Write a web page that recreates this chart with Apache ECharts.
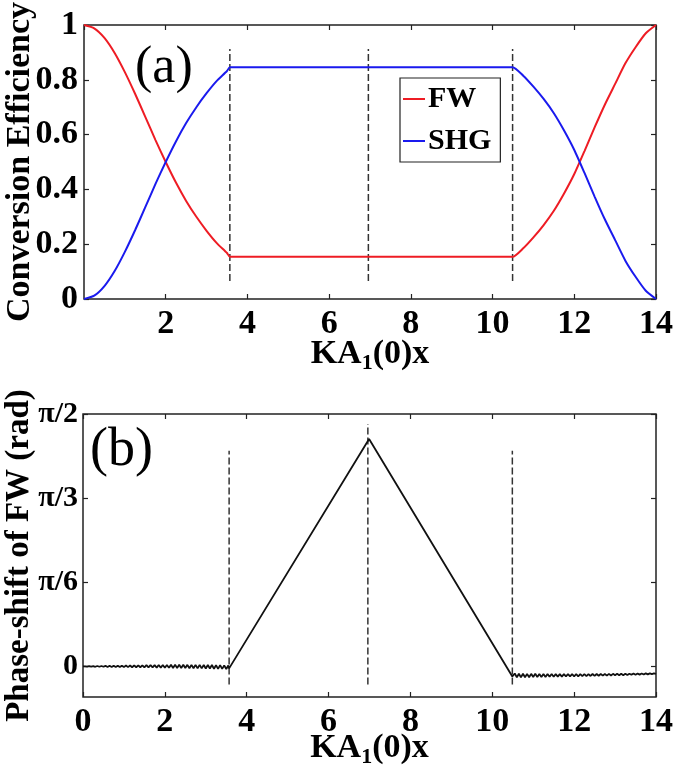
<!DOCTYPE html>
<html>
<head>
<meta charset="utf-8">
<script src="https://cdn.jsdelivr.net/npm/echarts@6/dist/echarts.min.js"></script>
<style>
html,body{margin:0;padding:0;background:#fff;}
#c{width:675px;height:781px;}
</style>
</head>
<body>
<div id="c"></div>
<script>
// ---- Panel (a): conversion efficiency ----
var xTop = [0, 0.25, 0.5, 0.75, 1, 1.25, 1.5, 1.75, 2, 2.25, 2.5, 2.75, 3, 3.25, 3.5, 3.57,
            4, 5, 6, 7, 8, 9, 10, 10.49,
            10.75, 11, 11.25, 11.5, 11.75, 12, 12.25, 12.5, 12.75, 13, 13.25, 13.5, 13.75, 14];
var fwVals = [1, 0.988, 0.953, 0.898, 0.828, 0.749, 0.665, 0.580, 0.500, 0.425, 0.358, 0.300, 0.249, 0.204, 0.168, 0.154,
              0.154, 0.154, 0.154, 0.154, 0.154, 0.154, 0.154, 0.154,
              0.185, 0.225, 0.270, 0.322, 0.385, 0.456, 0.540, 0.627, 0.710, 0.785, 0.860, 0.919, 0.970, 1];
var shgVals = [0, 0.012, 0.047, 0.102, 0.172, 0.251, 0.335, 0.420, 0.500, 0.575, 0.642, 0.700, 0.751, 0.796, 0.832, 0.846,
               0.846, 0.846, 0.846, 0.846, 0.846, 0.846, 0.846, 0.846,
               0.815, 0.775, 0.730, 0.678, 0.615, 0.544, 0.460, 0.373, 0.290, 0.215, 0.140, 0.081, 0.030, 0];
var dashX = [3.57, 6.96, 10.49];
var dashTopRange = [0.066, 0.912];

// ---- Panel (b): phase shift of FW (rad) ----
var xPhase = [
  0, 0.05, 0.1, 0.15, 0.2, 0.25, 0.3, 0.35, 0.4, 0.45,
  0.5, 0.55, 0.6, 0.65, 0.7, 0.75, 0.8, 0.85, 0.9, 0.95,
  1, 1.05, 1.1, 1.15, 1.2, 1.25, 1.3, 1.35, 1.4, 1.45,
  1.5, 1.55, 1.6, 1.65, 1.7, 1.75, 1.8, 1.85, 1.9, 1.95,
  2, 2.05, 2.1, 2.15, 2.2, 2.25, 2.3, 2.35, 2.4, 2.45,
  2.5, 2.55, 2.6, 2.65, 2.7, 2.75, 2.8, 2.85, 2.9, 2.95,
  3, 3.05, 3.1, 3.15, 3.2, 3.25, 3.3, 3.35, 3.4, 3.45,
  3.5, 3.55, 3.57,
  6.99,
  10.49,
  10.55, 10.6, 10.65, 10.7, 10.75, 10.8, 10.85, 10.9, 10.95,
  11, 11.05, 11.1, 11.15, 11.2, 11.25, 11.3, 11.35, 11.4, 11.45,
  11.5, 11.55, 11.6, 11.65, 11.7, 11.75, 11.8, 11.85, 11.9, 11.95,
  12, 12.05, 12.1, 12.15, 12.2, 12.25, 12.3, 12.35, 12.4, 12.45,
  12.5, 12.55, 12.6, 12.65, 12.7, 12.75, 12.8, 12.85, 12.9, 12.95,
  13, 13.05, 13.1, 13.15, 13.2, 13.25, 13.3, 13.35, 13.4, 13.45,
  13.5, 13.55, 13.6, 13.65, 13.7, 13.75, 13.8, 13.85, 13.9, 13.95,
  14
];
var phaseVals = [
  0, 0.001, -0.001, 0.002, -0.001, 0.002, -0.002, 0.003, -0.002, 0.003,
  -0.002, 0.004, -0.003, 0.004, -0.003, 0.005, -0.003, 0.005, -0.004, 0.005,
  -0.004, 0.006, -0.004, 0.006, -0.005, 0.007, -0.005, 0.007, -0.005, 0.007,
  -0.006, 0.008, -0.006, 0.008, -0.006, 0.008, -0.007, 0.009, -0.007, 0.009,
  -0.008, 0.009, -0.008, 0.010, -0.009, 0.010, -0.009, 0.010, -0.010, 0.010,
  -0.010, 0.010, -0.011, 0.010, -0.011, 0.010, -0.012, 0.010, -0.012, 0.009,
  -0.013, 0.009, -0.013, 0.009, -0.014, 0.008, -0.015, 0.008, -0.015, 0.007,
  -0.016, 0.006, -0.012,
  1.415,
  -0.062,
  -0.044, -0.068, -0.045, -0.068, -0.045, -0.067, -0.046, -0.067, -0.046,
  -0.066, -0.046, -0.066, -0.047, -0.065, -0.047, -0.065, -0.047, -0.064, -0.047,
  -0.064, -0.048, -0.063, -0.048, -0.063, -0.048, -0.062, -0.048, -0.062, -0.048,
  -0.061, -0.048, -0.061, -0.048, -0.060, -0.048, -0.060, -0.048, -0.059, -0.047,
  -0.059, -0.047, -0.058, -0.047, -0.057, -0.047, -0.057, -0.046, -0.056, -0.046,
  -0.055, -0.046, -0.055, -0.045, -0.054, -0.045, -0.053, -0.045, -0.052, -0.044,
  -0.052, -0.044, -0.051, -0.044, -0.050, -0.043, -0.049, -0.043, -0.048, -0.043,
  -0.046
];
var dashBottomLow = -0.112;
var dashBottomHigh = [1.342, 1.508, 1.342];
var phaseTickValues = [0, Math.PI / 6, Math.PI / 3, Math.PI / 2];
var phaseTickLabels = ['0', 'π/6', 'π/3', 'π/2'];

var FONT = '"Liberation Serif", "Times New Roman", serif';

function pairs(xs, ys) { return xs.map(function (x, i) { return [x, ys[i]]; }); }

var series = [
  { name: 'FW', type: 'line', xAxisIndex: 0, yAxisIndex: 0, data: pairs(xTop, fwVals),
    smooth: 0.2,
    showSymbol: false, symbol: 'none', lineStyle: { color: '#ee1c24', width: 2 }, itemStyle: { color: '#ee1c24' }, z: 3 },
  { name: 'SHG', type: 'line', xAxisIndex: 0, yAxisIndex: 0, data: pairs(xTop, shgVals),
    smooth: 0.2,
    showSymbol: false, symbol: 'none', lineStyle: { color: '#1a1aee', width: 2 }, itemStyle: { color: '#1a1aee' }, z: 3 },
  { name: 'phase', type: 'line', xAxisIndex: 2, yAxisIndex: 2, data: pairs(xPhase, phaseVals),
    showSymbol: false, symbol: 'none', lineStyle: { color: '#111', width: 1.8 }, z: 3 }
];
dashX.forEach(function (x, i) {
  series.push({ type: 'line', xAxisIndex: 0, yAxisIndex: 0, silent: true, symbol: 'none',
    data: [[x, dashTopRange[0]], [x, dashTopRange[1]]],
    lineStyle: { color: '#333', width: 1.5, type: [7, 3] }, z: 2 });
  series.push({ type: 'line', xAxisIndex: 2, yAxisIndex: 2, silent: true, symbol: 'none',
    data: [[x, dashBottomLow], [x, dashBottomHigh[i]]],
    lineStyle: { color: '#333', width: 1.5, type: [7, 3] }, z: 2 });
});

var tickStyle = { inside: true, length: 5, lineStyle: { color: '#222', width: 1.2 } };
var noLine = { show: false, onZero: false };
var labelStyle = { fontFamily: FONT, fontWeight: 'bold', fontSize: 34, color: '#000' };
var piLabelStyle = { fontFamily: FONT, fontWeight: 'bold', fontSize: 30, color: '#000' };
var nameStyle = {
  fontFamily: FONT, fontWeight: 'bold', fontSize: 34, color: '#000',
  rich: {
    m: { fontFamily: FONT, fontWeight: 'bold', fontSize: 34, color: '#000' },
    s: { fontFamily: FONT, fontWeight: 'bold', fontSize: 22, color: '#000', padding: [18, 0, 0, 0] }
  }
};

var option = {
  animation: false,
  backgroundColor: '#fff',
  grid: [
    { left: 84, top: 25, width: 572, height: 274, show: true, borderColor: '#222', borderWidth: 1.5,
      containLabel: false, outerBoundsMode: 'none' },
    { left: 83, top: 414, width: 573, height: 283, show: true, borderColor: '#222', borderWidth: 1.5,
      containLabel: false, outerBoundsMode: 'none' }
  ],
  legend: {
    data: ['FW', 'SHG'], orient: 'vertical', left: 400, top: 78,
    padding: [6, 9, 6, 3], itemGap: 12, itemWidth: 22, itemHeight: 2, icon: 'rect',
    borderColor: '#222', borderWidth: 1.2, backgroundColor: '#fff',
    textStyle: { fontFamily: FONT, fontWeight: 'bold', fontSize: 30, color: '#000', padding: [0, 0, 0, -2] }
  },
  xAxis: [
    { type: 'value', gridIndex: 0, min: 0, max: 14, interval: 2, position: 'bottom',
      axisLine: noLine, splitLine: { show: false }, axisTick: tickStyle,
      axisLabel: Object.assign({ margin: 8, showMinLabel: false }, labelStyle),
      name: '{m|KA}{s|1}{m|(0)x}', nameLocation: 'middle', nameGap: 35, nameMoveOverlap: false, nameTextStyle: nameStyle },
    { type: 'value', gridIndex: 0, min: 0, max: 14, interval: 2, position: 'top',
      axisLine: noLine, splitLine: { show: false }, axisTick: tickStyle, axisLabel: { show: false } },
    { type: 'value', gridIndex: 1, min: 0, max: 14, interval: 2, position: 'bottom',
      axisLine: noLine, splitLine: { show: false }, axisTick: tickStyle,
      axisLabel: Object.assign({ margin: 8 }, labelStyle),
      name: '{m|KA}{s|1}{m|(0)x}', nameLocation: 'middle', nameGap: 31, nameMoveOverlap: false, nameTextStyle: nameStyle },
    { type: 'value', gridIndex: 1, min: 0, max: 14, interval: 2, position: 'top',
      axisLine: noLine, splitLine: { show: false }, axisTick: tickStyle, axisLabel: { show: false } }
  ],
  yAxis: [
    { type: 'value', gridIndex: 0, min: 0, max: 1, interval: 0.2, position: 'left',
      axisLine: noLine, splitLine: { show: false }, axisTick: tickStyle,
      axisLabel: Object.assign({ margin: 6 }, labelStyle),
      name: 'Conversion Efficiency', nameLocation: 'middle', nameGap: 47, nameRotate: 90, nameMoveOverlap: false,
      nameTextStyle: { fontFamily: FONT, fontWeight: 'bold', fontSize: 34, color: '#000' } },
    { type: 'value', gridIndex: 0, min: 0, max: 1, interval: 0.2, position: 'right',
      axisLine: noLine, splitLine: { show: false }, axisTick: tickStyle, axisLabel: { show: false } },
    { type: 'value', gridIndex: 1, min: -0.19, max: Math.PI / 2, position: 'left',
      axisLine: noLine, splitLine: { show: false },
      axisTick: Object.assign({ customValues: phaseTickValues }, tickStyle),
      axisLabel: Object.assign({ margin: 5, customValues: phaseTickValues,
        formatter: function (v) {
          for (var i = 0; i < phaseTickValues.length; i++) {
            if (Math.abs(v - phaseTickValues[i]) < 1e-6) return phaseTickLabels[i];
          }
          return '';
        } }, piLabelStyle),
      name: 'Phase-shift of FW (rad)', nameLocation: 'middle', nameGap: 47, nameRotate: 90, nameMoveOverlap: false,
      nameTextStyle: { fontFamily: FONT, fontWeight: 'bold', fontSize: 33, color: '#000' } },
    { type: 'value', gridIndex: 1, min: -0.19, max: Math.PI / 2, position: 'right',
      axisLine: noLine, splitLine: { show: false },
      axisTick: Object.assign({ customValues: phaseTickValues }, tickStyle), axisLabel: { show: false } }
  ],
  graphic: [
    { type: 'text', left: 135, top: 42, style: { text: '(a)', fontFamily: FONT, fontSize: 52, fill: '#000' } },
    { type: 'text', left: 90, top: 424, style: { text: '(b)', fontFamily: FONT, fontSize: 54, fill: '#000' } }
  ],
  series: series
};

var chart = echarts.init(document.getElementById('c'), null, { renderer: 'canvas' });
chart.setOption(option);
</script>
</body>
</html>
